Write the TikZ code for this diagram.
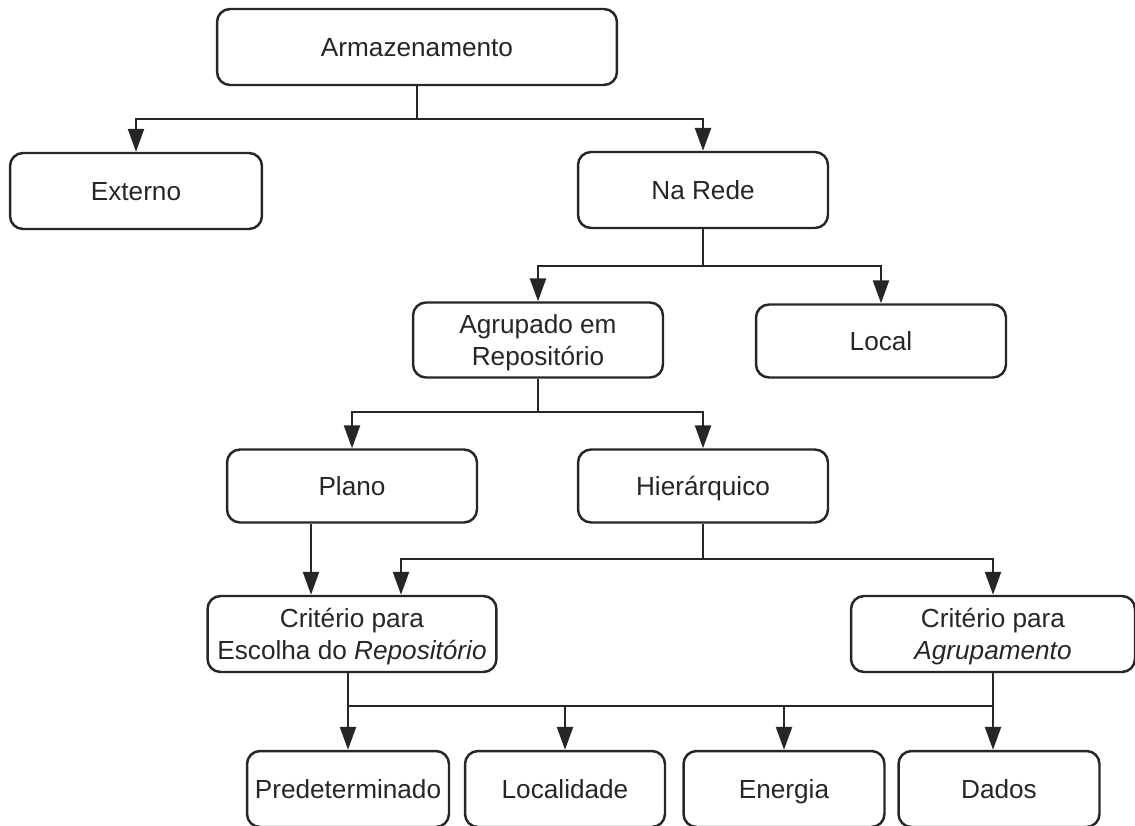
\documentclass[tikz,border=0pt]{standalone}
\usepackage{fontspec}
\setmainfont{Liberation Sans}
\usetikzlibrary{arrows.meta, positioning, calc}

\begin{document}
\begin{tikzpicture}[
    x=0.02cm, y=-0.02cm,
    box/.style={rectangle, rounded corners=0.26cm, draw=black!85, line width=1.4pt, minimum width=5cm, minimum height=1.52cm, inner sep=2pt, align=center, text=black!85, font=\fontsize{14.9}{18}\selectfont},
    one/.style={box, text height=10.7pt, text depth=0pt},
    two/.style={box, text depth=-1pt},
    link/.style={draw=black!85, line width=1.4pt},
    arrow/.style={link, -{Triangle[length=0.46cm, width=0.32cm]}}
]
\useasboundingbox (0,0) rectangle (1135,825);
\clip (0,0) rectangle (1135,825);
% levels
\node[one, minimum width=8cm] (arm) at (417,47) {Armazenamento};
\node[one, minimum width=5.04cm] (ext) at (136,191) {Externo};
\node[one] (rede) at (703,190) {Na Rede};
\node[two, minimum height=1.5cm] (agr) at (538,340) {Agrupado em\\Repositório};
\node[one, minimum height=1.46cm] (local) at (881,341) {Local};
\node[one, minimum height=1.46cm] (plano) at (352,486) {Plano};
\node[one, minimum height=1.46cm] (hier) at (703,486) {Hierárquico};
\node[two, minimum width=5.78cm] (crep) at (352,634) {Critério para\\Escolha do \textit{Repositório}};
\node[two, minimum width=5.68cm] (cagr) at (993,634) {Critério para\\\textit{Agrupamento}};
\node[one, minimum width=4.04cm] (pred) at (348,789) {Predeterminado};
\node[one, minimum width=4cm] (loc) at (565,789) {Localidade};
\node[one, minimum width=4.02cm] (ener) at (784,789) {Energia};
\node[one, minimum width=4.02cm] (dados) at (999,789) {Dados};
% connectors
\draw[link] (arm.south) -- ++(0,33) coordinate (j1);
\draw[arrow] (j1) -| (ext.north);
\draw[arrow] (j1) -| (rede.north);
\draw[link] (rede.south) -- ++(0,37) coordinate (j2);
\draw[arrow] (j2) -| (agr.north);
\draw[arrow] (j2) -| (local.north);
\draw[link] (agr.south) -- ++(0,33) coordinate (j3);
\draw[arrow] (j3) -| (plano.north);
\draw[arrow] (j3) -| (hier.north);
\draw[arrow] ($(plano.south)+(-41,0)$) -- ($(crep.north)+(-41,0)$);
\draw[link] (hier.south) -- ++(0,35) coordinate (j4);
\draw[arrow] (j4) -| ($(crep.north)+(49,0)$);
\draw[arrow] (j4) -| (cagr.north);
\draw[arrow] (crep.south -| pred.north) -- (pred.north);
\draw[link] (crep.south -| pred.north) ++(0,33) coordinate (j5) -- (j5 -| cagr.south);
\draw[arrow] (cagr.south) -- (cagr.south |- dados.north);
\draw[arrow] (j5 -| loc.north) -- (loc.north);
\draw[arrow] (j5 -| ener.north) -- (ener.north);
\end{tikzpicture}
\end{document}
